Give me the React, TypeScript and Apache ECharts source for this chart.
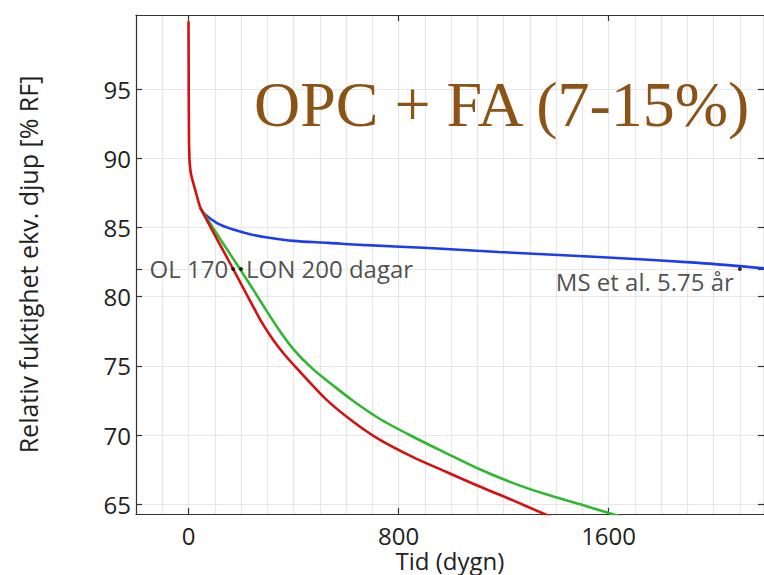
import React, { useEffect, useRef } from "react";
import * as echarts from "echarts";

// Shared initial segment (days, RH %)
const headDays = [0, 1, 2, 4, 8, 13, 44];
const headRH = [99.9, 94, 91, 89.8, 89.0, 88.56, 86.45];

// Blue (MS et al.)
const blueDays = [60, 110, 174, 238, 301, 400, 533, 659, 914, 1181, 1562, 1943, 2200];
const blueRH = [86.0, 85.3, 84.83, 84.5, 84.28, 84.03, 83.89, 83.74, 83.52, 83.23, 82.87, 82.44, 82.03];

// Green (LON)
const greenDays = [123, 198, 250, 300, 345, 400, 472, 550, 625, 726, 853, 981, 1107, 1234, 1362, 1489, 1604, 1650];
const greenRH = [84.1, 81.94, 80.4, 78.9, 77.6, 76.2, 74.8, 73.6, 72.5, 71.2, 69.9, 68.7, 67.55, 66.55, 65.72, 65.02, 64.35, 64.1];

// Red (OL)
const redDays = [110, 170, 212, 250, 282, 320, 360, 409, 523, 625, 726, 853, 981, 1107, 1234, 1349, 1400];
const redRH = [84.1, 82.0, 80.5, 79.15, 78.05, 76.95, 75.95, 74.9, 72.6, 71.0, 69.69, 68.43, 67.35, 66.3, 65.3, 64.35, 63.95];

// Markers
const markerDays = [170, 200, 2100];
const markerRH = [82, 82, 82];
const markerLabels = ["OL 170", "LON 200 dagar", "MS et al. 5.75 år"];

const xTicks = [0, 800, 1600];
const yTicks = [65, 70, 75, 80, 82, 85, 90, 95];
const yLabels = [65, 70, 75, 80, 85, 90, 95];

const titleText = "OPC + FA (7-15%)";
const xName = "Tid (dygn)";
const yName = "Relativ fuktighet ekv. djup [% RF]";

const X_MIN = -200;
const X_MAX = 2192;
const Y_MIN = 64.3;
const Y_MAX = 100.35;

const build = (d: number[], v: number[]) => d.map((x, i) => [x, v[i]]);
const kink = [headDays[headDays.length - 1], headRH[headRH.length - 1]];
const tail = (d: number[], v: number[]) => [kink].concat(build(d, v));

const FONT = "Open Sans";
const BLUE = "#1c3cf0";
const GREEN = "#2fb82f";
const RED = "#d41111";

export default function App() {
  const ref = useRef<HTMLDivElement>(null);
  useEffect(() => {
    if (!ref.current) return;
    const chart = echarts.init(ref.current, undefined, { renderer: "svg" });
    const lineStyleAxis = { color: "#333", width: 1.2 };
    const curve = (data: number[][], color: string, z: number, smooth: any) => ({
      type: "line",
      xAxisIndex: 0,
      yAxisIndex: 0,
      data,
      showSymbol: false,
      smooth,
      lineStyle: { color, width: 2.6 },
      clip: true,
      z,
    });
    const option: any = {
      animation: false,
      backgroundColor: "#fff",
      grid: { left: 136, top: 15, right: 0, bottom: 61, containLabel: false, outerBoundsMode: "none" },
      xAxis: [
        {
          type: "value",
          position: "bottom",
          min: X_MIN,
          max: X_MAX,
          axisLine: { show: true, onZero: false, lineStyle: lineStyleAxis },
          axisTick: { show: true, inside: true, length: 6, customValues: xTicks, lineStyle: lineStyleAxis },
          axisLabel: {
            show: true,
            customValues: xTicks,
            formatter: (v: number) => String(v),
            fontSize: 24,
            lineHeight: 24,
            color: "#222",
            fontFamily: FONT,
            margin: 9,
          },
          splitLine: { show: false },
          name: xName,
          nameLocation: "middle",
          nameGap: 34,
          nameMoveOverlap: false,
          nameTextStyle: { fontSize: 24, color: "#222", fontFamily: FONT, lineHeight: 24 },
        },
        {
          type: "value",
          position: "bottom",
          min: X_MIN,
          max: X_MAX,
          interval: 100,
          axisLine: { show: false },
          axisTick: { show: false },
          axisLabel: { show: false },
          splitLine: { show: true, lineStyle: { color: "#e6e6e6", width: 1.2 } },
        },
        {
          type: "value",
          position: "top",
          min: X_MIN,
          max: X_MAX,
          axisLine: { show: true, onZero: false, lineStyle: lineStyleAxis },
          axisTick: { show: true, inside: true, length: 6, customValues: xTicks, lineStyle: lineStyleAxis },
          axisLabel: { show: false },
          splitLine: { show: false },
        },
      ],
      yAxis: [
        {
          type: "value",
          position: "left",
          min: Y_MIN,
          max: Y_MAX,
          axisLine: { show: true, onZero: false, lineStyle: lineStyleAxis },
          axisTick: { show: true, inside: true, length: 6, customValues: yTicks, lineStyle: lineStyleAxis },
          axisLabel: {
            show: true,
            customValues: yLabels,
            fontSize: 24,
            color: "#222",
            fontFamily: FONT,
            margin: 5,
          },
          splitLine: { show: true, lineStyle: { color: "#e6e6e6", width: 1.2 } },
          name: yName,
          nameLocation: "middle",
          nameGap: 96,
          nameRotate: 90,
          nameMoveOverlap: false,
          nameTextStyle: { fontSize: 25, color: "#222", fontFamily: FONT },
        },
        {
          type: "value",
          position: "right",
          min: Y_MIN,
          max: Y_MAX,
          axisLine: { show: true, onZero: false, lineStyle: lineStyleAxis },
          axisTick: { show: true, inside: true, length: 6, customValues: yTicks, lineStyle: lineStyleAxis },
          axisLabel: { show: false },
          splitLine: { show: false },
        },
      ],
      series: [
        curve(tail(blueDays, blueRH), BLUE, 3, 0.3),
        curve(tail(greenDays, greenRH), GREEN, 4, 0.3),
        curve(tail(redDays, redRH), RED, 5, 0.3),
        curve(build(headDays, headRH), RED, 5, false),
        {
          type: "scatter",
          xAxisIndex: 0,
          yAxisIndex: 0,
          symbolSize: 4,
          itemStyle: { color: "#000" },
          z: 6,
          data: markerDays.map((d, i) => ({
            value: [d, markerRH[i]],
            label: {
              show: true,
              formatter: markerLabels[i],
              position: i === 1 ? "right" : "left",
              distance: i === 2 ? 4 : 3,
              offset: i === 2 ? [0, 13] : [0, 0],
              fontSize: 24,
              color: "#222",
              fontFamily: FONT,
            },
          })),
        },
      ],
      graphic: [
        {
          type: "text",
          left: 254,
          top: 72,
          z: 10,
          style: {
            text: titleText,
            fontSize: 64,
            fontFamily: "Liberation Serif",
            fill: "#8b5316",
          },
        },
      ],
    };
    chart.setOption(option);
    return () => chart.dispose();
  }, []);
  return <div ref={ref} style={{ position: "fixed", left: 0, top: 0, width: 764, height: 575 }} />;
}
